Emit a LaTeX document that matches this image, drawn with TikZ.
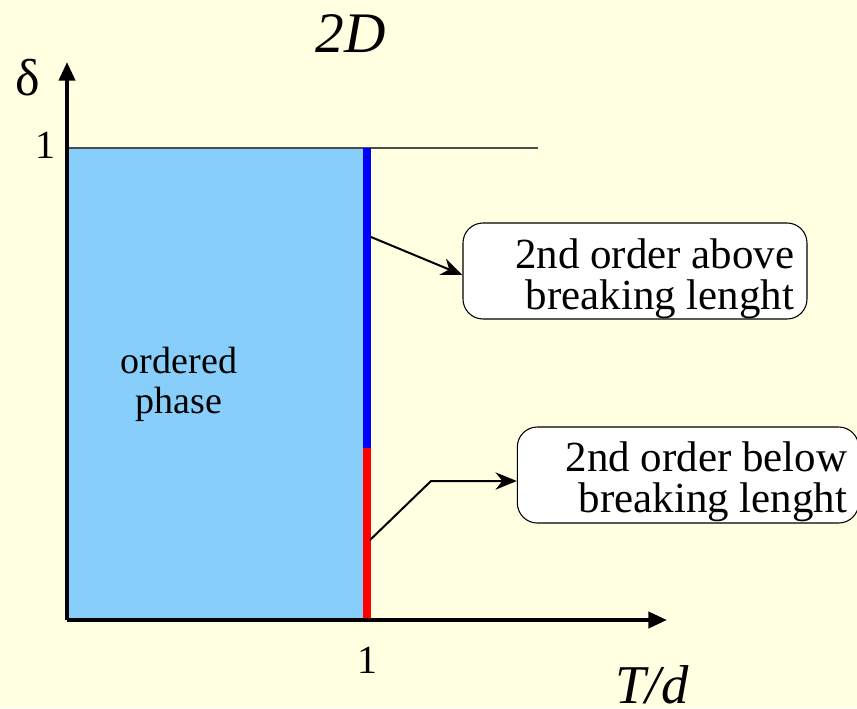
\documentclass[tikz,border=0pt]{standalone}
\usepackage{fontspec}
\setmainfont{Liberation Serif}
\usetikzlibrary{arrows.meta}
\definecolor{bgyellow}{RGB}{255,255,225}
\definecolor{phaseblue}{RGB}{135,206,250}
\definecolor{lineblue}{RGB}{0,0,255}
\definecolor{linered}{RGB}{255,0,0}
\tikzset{
  axis/.style={line width=3pt,-{Triangle[length=14pt,width=12pt]}},
  conn/.style={line width=1.5pt,-{Stealth[length=16pt,width=13pt]}},
  callout/.style={draw=black,line width=0.8pt,fill=white,rounded corners=15pt,inner sep=0pt},
  callouttext/.style={align=right,inner sep=0pt,font=\fontsize{32.2}{30.8}\selectfont},
  ticklabel/.style={inner sep=0pt,font=\fontsize{30}{30}\selectfont},
}
\begin{document}
\begin{tikzpicture}[x=0.75pt,y=-0.75pt]
\useasboundingbox (0,0) rectangle (857,708);
\fill[bgyellow] (0,0) rectangle (857,708);
% ordered phase region
\fill[phaseblue] (67,148) rectangle (363,620);
\draw[line width=1pt,black!70] (67,148) -- (538,148);
\draw[lineblue,line width=6pt] (367,148) -- (367,448);
\draw[linered,line width=6pt] (367,448) -- (367,620);
% axes
\coordinate (O) at (67,620);
\coordinate (ytip) at (67,62);
\coordinate (xtip) at (667,620);
\draw[axis] (O) -- (ytip);
\draw[axis] (O) -- (xtip);
% labels
\node[inner sep=0pt,anchor=base,font=\fontsize{43}{43}\selectfont\itshape] (title) at (351,52) {2D};
\node[inner sep=0pt,anchor=base,font=\fontsize{39}{39}\selectfont] (delta) at (27.5,95) {δ};
\node[ticklabel,anchor=base] (one y) at (45,158) {1};
\node[ticklabel,anchor=base] (one x) at (367,673) {1};
\node[inner sep=0pt,anchor=base,font=\fontsize{41}{41}\selectfont\itshape] (xlabel) at (652,703) {T/d};
\node[inner sep=0pt,align=center,font=\fontsize{28.5}{30}\selectfont] (phase) at (179,384) {ordered\\phase};
% callouts
\node[callout,minimum width=258pt,minimum height=72pt] (b1) at (635,271) {};
\node[callouttext,anchor=north east] (t1) at (794.5,238) {2nd order above\\breaking lenght};
\node[callout,minimum width=256pt,minimum height=72pt] (b2) at (688,475) {};
\node[callouttext,anchor=north east] (t2) at (847.5,441) {2nd order below\\breaking lenght};
% connectors
\coordinate (c1) at (371,237);
\coordinate (c2) at (370,540);
\coordinate (k2) at (431,481);
\draw[conn] (c1) -- ([yshift=-3pt]b1.west);
\draw[conn] (c2) -- (k2) -- (k2 -| b2.west);
\end{tikzpicture}
\end{document}
